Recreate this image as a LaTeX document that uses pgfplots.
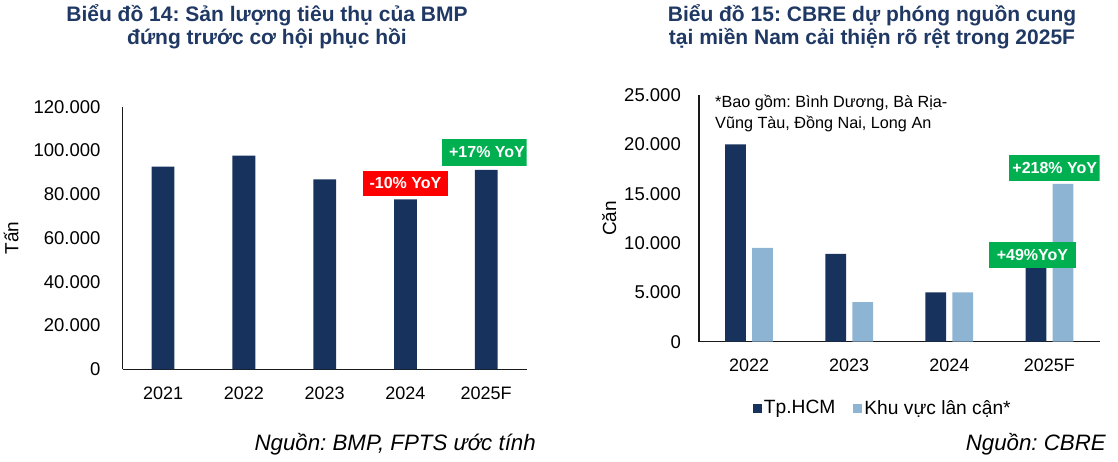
\documentclass[border=0pt]{standalone}
\usepackage{pgfplots}
\pgfplotsset{compat=1.18}
\usepackage{fontspec}
\setmainfont{Liberation Sans}
\frenchspacing
\definecolor{navy}{HTML}{17325C}
\definecolor{lightb}{HTML}{8EB4D3}
\definecolor{titleblue}{HTML}{1F3864}
\definecolor{gr}{HTML}{00B050}
\definecolor{rd}{HTML}{FF0000}
\pgfplotsset{sqleg/.style={legend image code/.code={\fill[##1] (0pt,-4.5pt) rectangle (9pt,4.5pt);}}}
\begin{document}
\begin{tikzpicture}[x=1pt,y=1pt]
\path (0,0) rectangle (1118,-462);
\pgfplotsset{
 mybase/.style={
  scale only axis,
  axis x line=bottom, axis y line=left,
  axis line style={-, draw=black!90, line width=1.4pt},
  major tick length=0pt,
  tick style={draw=none},
  ymin=0,
  xtick=data,
  xticklabel shift=17pt,
  xticklabel style={inner sep=0pt, anchor=north, font=\fontsize{18}{18}\selectfont},
  yticklabel style={inner sep=0pt, anchor=east, font=\fontsize{18.5}{18.5}\selectfont, /pgf/number format/.cd, fixed, 1000 sep={.}},
  scaled y ticks=false,
  /pgf/number format/assume math mode=true,
 }
}
% ---------- Left chart ----------
\node[anchor=base, font=\bfseries\fontsize{21}{21}\selectfont, text=titleblue] at (267,-21.7) {Biểu đồ 14: Sản lượng tiêu thụ của BMP};
\node[anchor=base, font=\bfseries\fontsize{21}{21}\selectfont, text=titleblue] at (267,-45) {đứng trước cơ hội phục hồi};
\begin{axis}[mybase, ybar, at={(122.7pt,-369.3pt)}, anchor=south west,
  width=403.9pt, height=262.6pt,
  xmin=-0.5, xmax=4.5, ymax=120000,
  ytick={0,20000,40000,60000,80000,100000,120000},
  yticklabel shift=22pt,
  xticklabels={2021,2022,2023,2024,2025F},
  bar width=22.8pt]
\addplot[fill=navy, draw=none] coordinates {(0,92590) (1,97620) (2,86830) (3,77690) (4,91080)};
\node[fill=rd, text=white, font=\bfseries\fontsize{16}{16}\selectfont, minimum width=85.6pt, minimum height=24.7pt, inner sep=0pt] at (axis cs:3,85000) {-10\% YoY};
\node[fill=gr, text=white, font=\bfseries\fontsize{16}{16}\selectfont, minimum width=91pt, minimum height=26.4pt, inner sep=0pt] at (axis cs:4.01,99070) {+17\% YoY};
\end{axis}
\node[rotate=90, anchor=base, font=\fontsize{19}{19}\selectfont] at (18.3,-238) {Tấn};
\node[anchor=base east, font=\itshape\fontsize{22.3}{22.3}\selectfont, inner sep=0pt] at (536,-450) {Nguồn: BMP, FPTS ước tính};
% ---------- Right chart ----------
\node[anchor=base, font=\bfseries\fontsize{21}{21}\selectfont, text=titleblue] at (872,-21.7) {Biểu đồ 15: CBRE dự phóng nguồn cung};
\node[anchor=base, font=\bfseries\fontsize{21}{21}\selectfont, text=titleblue] at (872,-45) {tại miền Nam cải thiện rõ rệt trong 2025F};
\begin{axis}[mybase, ybar=6.3pt, at={(699pt,-341.7pt)}, anchor=south west,
  width=400.5pt, height=246.6pt,
  xmin=-0.5, xmax=3.5, ymax=25000,
  ytick={0,5000,10000,15000,20000,25000},
  yticklabel shift=18pt,
  xticklabels={2022,2023,2024,2025F},
  bar width=20.7pt,
  legend style={at={(axis description cs:0.459,-0.269)}, anchor=center, draw=none, fill=none,
    font=\fontsize{19.2}{19.2}\selectfont, legend columns=2,
    /tikz/every even column/.append style={column sep=16pt}},
  legend cell align=left]
\addplot[fill=navy, draw=none, sqleg] coordinates {(0,20000) (1,8900) (2,5000) (3,7450)};
\addplot[fill=lightb, draw=none, sqleg] coordinates {(0,9500) (1,4000) (2,5000) (3,16000)};
\legend{Tp.HCM, Khu vực lân cận*}
\node[fill=gr, text=white, font=\bfseries\fontsize{16}{16}\selectfont, minimum width=90.7pt, minimum height=26pt, inner sep=0pt] at (axis cs:3.053,17640) {+218\% YoY};
\node[fill=gr, text=white, font=\bfseries\fontsize{16}{16}\selectfont, minimum width=86.4pt, minimum height=26.3pt, inner sep=0pt] at (axis cs:2.83,8810) {+49\%YoY};
\end{axis}
\node[anchor=base west, font=\fontsize{16.2}{16.2}\selectfont, inner sep=0pt] at (715,-107.6) {*Bao gồm: Bình Dương, Bà Rịa-};
\node[anchor=base west, font=\fontsize{16.2}{16.2}\selectfont, inner sep=0pt] at (715,-128.6) {Vũng Tàu, Đồng Nai, Long An};
\node[rotate=90, anchor=base, font=\fontsize{19}{19}\selectfont] at (616,-218.3) {Căn};
\node[anchor=base east, font=\itshape\fontsize{22.3}{22.3}\selectfont, inner sep=0pt] at (1106,-450) {Nguồn: CBRE};
\end{tikzpicture}
\end{document}
